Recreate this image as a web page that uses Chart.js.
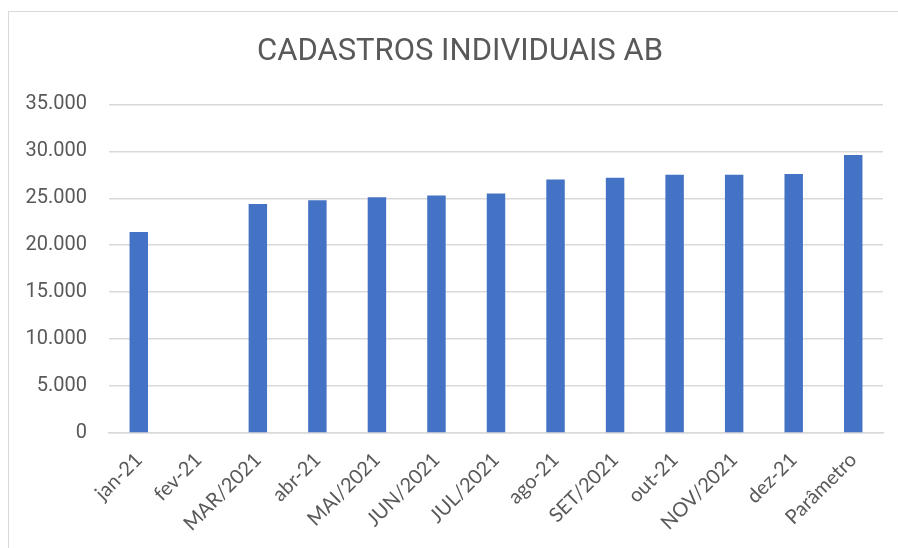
<!DOCTYPE html>
<html>
<head>
<meta charset="utf-8">
<script src="https://cdn.jsdelivr.net/npm/chart.js@4"></script>
<style>
  html, body { margin: 0; padding: 0; background: #ffffff; }
  #wrap { position: relative; width: 898px; height: 548px; overflow: hidden; }
  #frame { position: absolute; left: 8px; top: 11px; width: 1000px; height: 1000px;
           border-left: 1.5px solid #d9d9d9; border-top: 1.5px solid #d9d9d9; pointer-events: none; }
  canvas { position: absolute; left: 0; top: 0; }
</style>
</head>
<body>
<div id="wrap">
  <canvas id="c" width="898" height="548"></canvas>
  <div id="frame"></div>
</div>
<script>
const chartTitle = "CADASTROS INDIVIDUAIS AB";
const categories = ["jan-21", "fev-21", "MAR/2021", "abr-21", "MAI/2021", "JUN/2021", "JUL/2021",
                    "ago-21", "SET/2021", "out-21", "NOV/2021", "dez-21", "Parâmetro"];
const cadastros = [21400, null, 24400, 24800, 25100, 25300, 25500, 27000, 27200, 27500, 27500, 27600, 29600];
const yMax = 35000;
const yStep = 5000;

function fmt(v) {
  return String(Math.round(v)).replace(/\B(?=(\d{3})+(?!\d))/g, ".");
}

const titleFont = "normal 31px Roboto, sans-serif";
const titlePlugin = {
  id: "offsetTitle",
  afterDraw(chart) {
    const ctx = chart.ctx;
    ctx.save();
    ctx.font = titleFont;
    ctx.fillStyle = "#595959";
    ctx.textAlign = "center";
    ctx.textBaseline = "middle";
    ctx.fillText(chartTitle, chart.width / 2 + 11, 52);
    ctx.restore();
  }
};

new Chart(document.getElementById("c"), {
  type: "bar",
  data: {
    labels: categories,
    datasets: [{
      data: cadastros,
      backgroundColor: "#4472c4",
      borderWidth: 0,
      categoryPercentage: 1,
      barPercentage: 0.31
    }]
  },
  plugins: [titlePlugin],
  options: {
    responsive: false,
    animation: false,
    layout: { padding: { top: 0, right: 15, bottom: 0, left: 0 } },
    plugins: {
      legend: { display: false },
      tooltip: { enabled: false },
      title: {
        display: true,
        text: chartTitle,
        color: "rgba(0,0,0,0)",
        font: { family: "Roboto, sans-serif", size: 32, weight: "normal" },
        padding: { top: 33, bottom: 33 }
      }
    },
    scales: {
      x: {
        offset: true,
        grid: { display: false, drawTicks: false },
        border: { color: "#d9d9d9", width: 1.5 },
        ticks: {
          color: "#595959",
          font: { family: "Lato, 'Open Sans', sans-serif", size: 20 },
          minRotation: 45, maxRotation: 45,
          padding: 15,
          autoSkip: false
        },
        afterFit: (s) => { s.height = 115; }
      },
      y: {
        min: 0, max: yMax,
        grid: { color: "#d9d9d9", lineWidth: 1.5, drawTicks: false },
        border: { display: false },
        ticks: {
          stepSize: yStep,
          color: "#595959",
          font: { family: "Roboto, sans-serif", size: 20 },
          padding: 22,
          callback: (v) => fmt(v)
        },
        afterFit: (s) => { s.width = 109; }
      }
    }
  }
});
</script>
</body>
</html>
